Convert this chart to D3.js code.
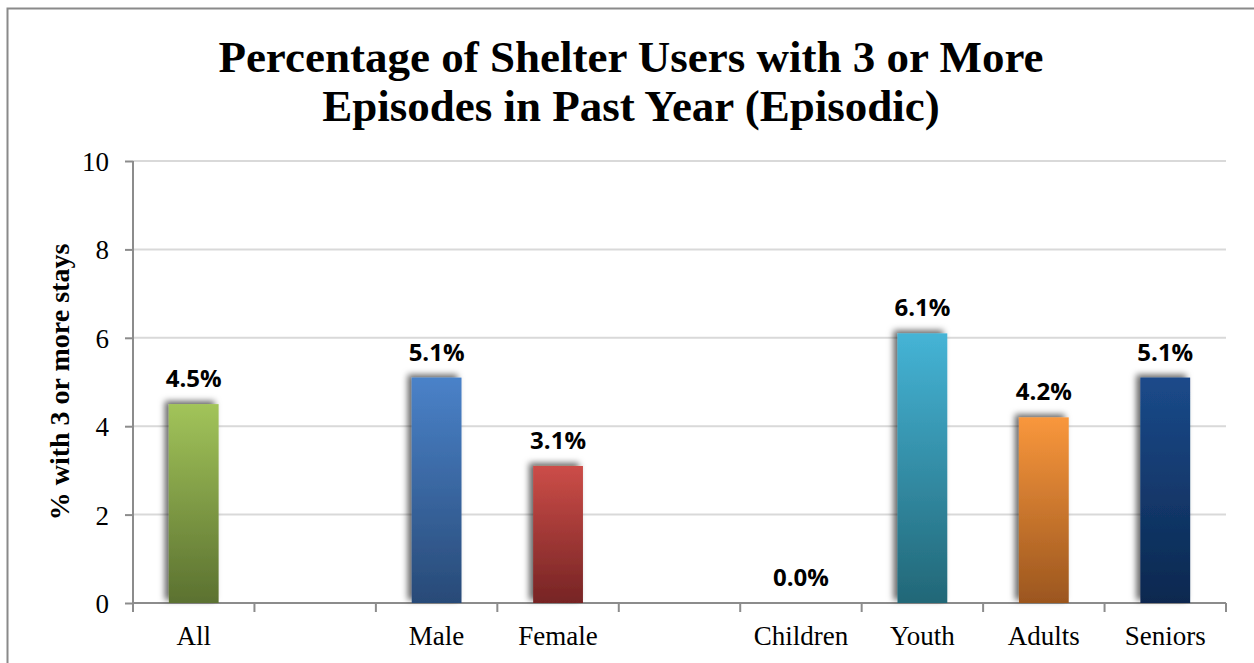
<!DOCTYPE html>
<html>
<head>
<meta charset="utf-8">
<script src="https://cdn.jsdelivr.net/npm/d3@7"></script>
<style>
  body { margin: 0; background: #fff; }
  svg { display: block; }
</style>
</head>
<body>
<div class="canvas"></div>
<script>
// data
const categories = ["All", "", "Male", "Female", " ", "Children", "Youth", "Adults", "Seniors"]
const values = [4.5, null, 5.1, 3.1, null, 0.0, 6.1, 4.2, 5.1]
const yTicks = [0, 2, 4, 6, 8, 10]
const titleLines = ["Percentage of Shelter Users with 3 or More", "Episodes in Past Year (Episodic)"]
const yTitle = "% with 3 or more stays"

// bar colours, top and bottom of each gradient
const colors = [
    ["#a2c45a", "#5b7130"],
    null,
    ["#4a82c9", "#284a77"],
    ["#cc4d48", "#762424"],
    null,
    ["#45b4d6", "#226777"],
    ["#45b4d6", "#226777"],
    ["#f9973c", "#9b561f"],
    ["#1b4a8a", "#0b284f"]
]

const serif = "'Liberation Serif', 'DejaVu Serif', serif"

const width = 1254
const height = 663
const margin = { top: 161, right: 28, bottom: 60, left: 133 }
const graphWidth = width - margin.left - margin.right
const graphHeight = 603 - margin.top

const svg = d3.select(".canvas").append("svg")
    .attr("width", width)
    .attr("height", height)

const defs = svg.append("defs")

const shadow = defs.append("filter")
    .attr("id", "shadow")
    .attr("x", "-40%").attr("y", "-10%")
    .attr("width", "160%").attr("height", "120%")
shadow.append("feDropShadow")
    .attr("dx", -4).attr("dy", -3)
    .attr("stdDeviation", 3)
    .attr("flood-color", "#000")
    .attr("flood-opacity", 0.6)

colors.forEach((c, i) => {
    if (!c) return
    const g = defs.append("linearGradient")
        .attr("id", "grad" + i)
        .attr("x1", 0).attr("y1", 0).attr("x2", 0).attr("y2", 1)
    g.append("stop").attr("offset", "0%").attr("stop-color", c[0])
    g.append("stop").attr("offset", "100%").attr("stop-color", c[1])
})

// outer frame (left and top edges visible)
svg.append("path")
    .attr("d", `M7.5,${height} V8.5 H${width}`)
    .attr("fill", "none")
    .attr("stroke", "#8a8a8a")
    .attr("stroke-width", 2)

// title
svg.append("text")
    .attr("x", 631)
    .attr("text-anchor", "middle")
    .style("font-family", serif)
    .style("font-weight", "bold")
    .style("font-size", "45px")
    .style("fill", "#000")
    .selectAll("tspan")
    .data(titleLines)
    .enter()
    .append("tspan")
    .attr("x", 631)
    .attr("y", (d, i) => 72 + i * 49)
    .text(d => d)

const graph = svg.append("g")
    .attr("transform", `translate(${margin.left}, ${margin.top})`)

const x = d3.scaleBand()
    .domain(d3.range(categories.length))
    .range([0, graphWidth])
    .paddingInner(0.59)
    .paddingOuter(0.295)

const xOuter = d3.scaleBand()
    .domain(d3.range(categories.length))
    .range([0, graphWidth])

const y = d3.scaleLinear()
    .domain([0, 10])
    .range([graphHeight, 0])

// gridlines
graph.append("g")
    .selectAll("line")
    .data(yTicks.filter(d => d > 0))
    .enter()
    .append("line")
    .attr("x1", 0)
    .attr("x2", graphWidth)
    .attr("y1", d => y(d))
    .attr("y2", d => y(d))
    .attr("stroke", "#d9d9d9")
    .attr("stroke-width", 2)

// y axis
const yAxis = d3.axisLeft(y)
    .tickValues(yTicks)
    .tickSize(8)
    .tickPadding(16)
const yAxisGroup = graph.append("g").call(yAxis)
yAxisGroup.select(".domain").attr("stroke", "#8c8c8c").attr("stroke-width", 2)
    .attr("d", `M0,${graphHeight}V0`)
yAxisGroup.selectAll(".tick line").attr("stroke", "#8c8c8c").attr("stroke-width", 2)
yAxisGroup.selectAll("text")
    .style("font-family", serif)
    .style("font-size", "27px")
    .style("fill", "#000")
    .attr("dy", "0.35em")

// x axis: ticks at band edges
const xAxisGroup = graph.append("g")
    .attr("transform", `translate(0, ${graphHeight})`)
xAxisGroup.append("line")
    .attr("x1", 0).attr("x2", graphWidth)
    .attr("stroke", "#8c8c8c").attr("stroke-width", 2)
xAxisGroup.selectAll(".edge")
    .data(d3.range(categories.length + 1))
    .enter()
    .append("line")
    .attr("class", "edge")
    .attr("x1", d => d * xOuter.step())
    .attr("x2", d => d * xOuter.step())
    .attr("y1", 0).attr("y2", 9)
    .attr("stroke", "#8c8c8c").attr("stroke-width", 2)
xAxisGroup.selectAll(".label")
    .data(categories)
    .enter()
    .append("text")
    .attr("class", "label")
    .attr("x", (d, i) => x(i) + x.bandwidth() / 2)
    .attr("y", 42)
    .attr("text-anchor", "middle")
    .style("font-family", serif)
    .style("font-size", "27px")
    .style("fill", "#000")
    .text(d => d.trim())

// bars
const data = values.map((v, i) => ({ i, v })).filter(d => d.v !== null)

graph.selectAll("rect.bar")
    .data(data.filter(d => d.v > 0))
    .enter()
    .append("rect")
    .attr("class", "bar")
    .attr("x", d => x(d.i))
    .attr("y", d => y(d.v))
    .attr("width", x.bandwidth())
    .attr("height", d => graphHeight - y(d.v))
    .attr("fill", d => `url(#grad${d.i})`)
    .attr("filter", "url(#shadow)")

// value labels
graph.selectAll("text.value")
    .data(data)
    .enter()
    .append("text")
    .attr("class", "value")
    .attr("x", d => x(d.i) + x.bandwidth() / 2)
    .attr("y", d => y(d.v) - 17)
    .attr("text-anchor", "middle")
    .style("font-family", "'Open Sans', 'Liberation Sans', sans-serif")
    .style("font-weight", "bold")
    .style("font-size", "24px")
    .style("fill", "#000")
    .text(d => d.v.toFixed(1) + "%")

// y title
svg.append("text")
    .attr("transform", "translate(69, 382) rotate(-90)")
    .attr("text-anchor", "middle")
    .style("font-family", serif)
    .style("font-weight", "bold")
    .style("font-size", "28px")
    .style("fill", "#000")
    .text(yTitle)
</script>
</body>
</html>
